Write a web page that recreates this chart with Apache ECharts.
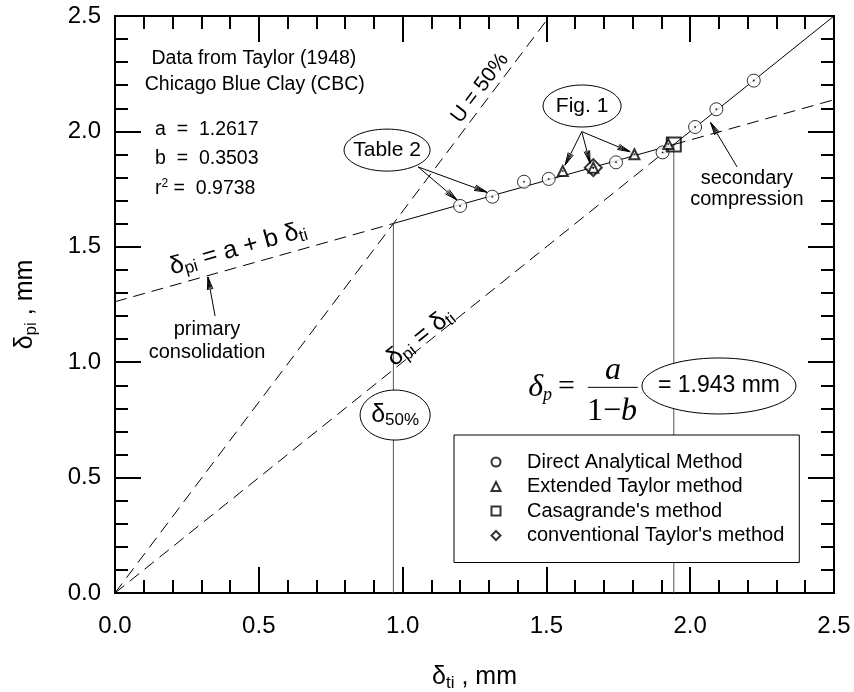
<!DOCTYPE html>
<html>
<head>
<meta charset="utf-8">
<script src="https://cdn.jsdelivr.net/npm/echarts@6/dist/echarts.min.js"></script>
<style>
  html, body { margin: 0; padding: 0; background: #fff; }
  #chart { width: 854px; height: 692px; }
</style>
</head>
<body>
<div id="chart"></div>
<script>
// axis ticks
const tickValues = [0.0, 0.5, 1.0, 1.5, 2.0, 2.5];

// measured points (delta_ti, delta_pi), mm
const directX = [1.200, 1.312, 1.422, 1.508, 1.742, 1.904, 2.017, 2.091, 2.221];
const directY = [1.677, 1.717, 1.782, 1.794, 1.866, 1.909, 2.019, 2.096, 2.220];
const extTaylorX = [1.557, 1.663, 1.806, 1.924];
const extTaylorY = [1.828, 1.843, 1.901, 1.945];
const casaX = [1.943];
const casaY = [1.943];
const convTaylorX = [1.663];
const convTaylorY = [1.843];

// fitted line delta_pi = a + b delta_ti (a = 1.2617, b = 0.3503)
const fitDashLeftX = [0, 0.968];
const fitDashLeftY = [1.262, 1.601];
const fitSolidX = [0.968, 1.943];
const fitSolidY = [1.601, 1.943];
const fitDashRightX = [1.943, 2.5];
const fitDashRightY = [1.943, 2.137];

// delta_pi = delta_ti line
const equalDashX = [0, 1.943];
const equalDashY = [0, 1.943];
const equalSolidX = [1.943, 2.5];
const equalSolidY = [1.943, 2.5];

// U = 50% line
const u50X = [0, 1.512];
const u50Y = [0, 2.5];

// verticals at delta_50 and delta_p
const v50X = [0.968, 0.968];
const v50Y = [0, 1.601];
const vpX = [1.943, 1.943];
const vpY = [0, 1.943];

const FONT = 'Liberation Sans, Arial, sans-serif';
const SERIF = 'Liberation Serif, Times New Roman, serif';

const zip = (xs, ys) => xs.map((x, i) => [x, ys[i]]);

const chart = echarts.init(document.getElementById('chart'));

function lineSeries(xs, ys, dashed, color) {
  return {
    type: 'line', data: zip(xs, ys), symbol: 'none', silent: true, z: 1,
    lineStyle: { color: color || '#000', width: 1, type: dashed ? [12, 7] : 'solid' }
  };
}

// interval 0.5 axis: minor ticks every 0.1 (short)
function axisBase(extra) {
  return Object.assign({
    type: 'value', min: 0, max: 2.5, interval: 0.5,
    axisLine: { show: true, onZero: false, lineStyle: { color: '#000', width: 2 } },
    axisTick: { show: true, inside: true, length: 26, lineStyle: { color: '#000', width: 2 } },
    minorTick: { show: true, splitNumber: 5, length: 13, lineStyle: { color: '#000', width: 2 } },
    splitLine: { show: false },
    minorSplitLine: { show: false }
  }, extra);
}
// interval 2.5 axis: its minor ticks fall on 0.5, 1.0, 1.5, 2.0 (long)
function majorAxis(position) {
  return {
    type: 'value', min: 0, max: 2.5, interval: 2.5, position: position,
    axisLine: { show: true, onZero: false, lineStyle: { color: '#000', width: 2 } },
    axisTick: { show: false, inside: true },
    minorTick: { show: true, splitNumber: 5, length: 26, lineStyle: { color: '#000', width: 2 } },
    axisLabel: { show: false },
    splitLine: { show: false },
    minorSplitLine: { show: false }
  };
}

const axisLabel = (margin) => ({
  show: true, margin: margin, color: '#000', fontSize: 24, fontFamily: FONT,
  showMinLabel: true, showMaxLabel: true,
  formatter: (v) => v.toFixed(1)
});

const nameRich = {
  d: { fontSize: 25, fontFamily: FONT, color: '#000' },
  s: { fontSize: 17, fontFamily: FONT, color: '#000', padding: [12, 0, 0, 0] }
};

const option = {
  animation: false,
  backgroundColor: '#fff',
  grid: { left: 115, right: 20, top: 16, bottom: 99, outerBoundsMode: 'none', containLabel: false },
  xAxis: [
    axisBase({
      position: 'bottom', axisLabel: axisLabel(21),
      name: '{d|δ}{s|ti}{d| , mm}', nameLocation: 'middle', nameGap: 70,
      nameTextStyle: { rich: nameRich }
    }),
    axisBase({ position: 'top', axisLabel: { show: false } }),
    majorAxis('bottom'),
    majorAxis('top')
  ],
  yAxis: [
    axisBase({
      position: 'left', axisLabel: axisLabel(14),
      name: '{d|δ}{s|pi}{d| , mm}', nameLocation: 'middle', nameGap: 75, nameRotate: 90,
      nameTextStyle: { rich: nameRich }
    }),
    axisBase({ position: 'right', axisLabel: { show: false } }),
    majorAxis('left'),
    majorAxis('right')
  ],
  legend: {
    orient: 'vertical', left: 454, top: 435,
    padding: [17, 15, 17, 36.5], itemGap: 4.5, itemWidth: 9, itemHeight: 9,
    backgroundColor: '#fff', borderColor: '#000', borderWidth: 1, z: 20,
    formatter: (name) => '{t|' + name + '}',
    textStyle: { fontSize: 20, fontFamily: FONT, color: '#000', lineHeight: 20,
      rich: { t: { fontSize: 20, fontFamily: FONT, color: '#000', padding: [0, 0, 0, 21.5] } } },
    data: ['Direct Analytical Method', 'Extended Taylor method', "Casagrande's method", "conventional Taylor's method"]
  },
  series: [
    lineSeries(fitDashLeftX, fitDashLeftY, true),
    lineSeries(fitSolidX, fitSolidY, false),
    lineSeries(fitDashRightX, fitDashRightY, true),
    lineSeries(equalDashX, equalDashY, true),
    lineSeries(equalSolidX, equalSolidY, false),
    lineSeries(u50X, u50Y, true),
    lineSeries(v50X, v50Y, false, '#555'),
    lineSeries(vpX, vpY, false, '#555'),
    {
      name: 'Direct Analytical Method', type: 'scatter', data: zip(directX, directY),
      symbol: 'circle', symbolSize: 13, z: 3,
      itemStyle: { color: '#fff', borderColor: '#000', borderWidth: 1 }
    },
    {
      name: "conventional Taylor's method", type: 'scatter', data: zip(convTaylorX, convTaylorY),
      symbol: 'diamond', symbolSize: [17, 17], z: 3,
      itemStyle: { color: '#fff', borderColor: '#000', borderWidth: 2 }
    },
    {
      name: 'Extended Taylor method', type: 'scatter', data: zip(extTaylorX, extTaylorY),
      symbol: 'triangle', symbolSize: 10, z: 4,
      itemStyle: { color: '#fff', borderColor: '#000', borderWidth: 2 }
    },
    {
      name: "Casagrande's method", type: 'scatter', data: zip(casaX, casaY),
      symbol: 'rect', symbolSize: 14, z: 3,
      itemStyle: { color: 'rgba(255,255,255,0)', borderColor: '#000', borderWidth: 2 }
    },
    {
      // centre dots of all markers
      name: 'dots', type: 'scatter', silent: true, z: 5,
      data: zip(directX, directY).concat(zip(extTaylorX, extTaylorY), zip(convTaylorX, convTaylorY), zip(casaX, casaY)),
      symbol: 'circle', symbolSize: 2, itemStyle: { color: '#000' }
    }
  ]
};

chart.setOption(option);

// ---- annotations, placed in data coordinates ----
const P = (x, y) => chart.convertToPixel({ gridIndex: 0 }, [x, y]);
const angleOf = (xs, ys) => {
  const a = P(xs[0], ys[0]), b = P(xs[xs.length - 1], ys[ys.length - 1]);
  return Math.atan2(a[1] - b[1], b[0] - a[0]);
};

const g = [];
function text(x, y, str, size, opts) {
  const p = P(x, y);
  g.push({
    type: 'text', x: p[0], y: p[1], rotation: (opts && opts.rotation) || 0, z: 30,
    style: Object.assign({
      text: str, fontSize: size, fontFamily: FONT, fill: '#000',
      align: 'center', verticalAlign: 'middle'
    }, (opts && opts.style) || {})
  });
}
function ellipse(x, y, rx, ry) {
  const p = P(x, y);
  g.push({ type: 'ellipse', z: 25, shape: { cx: p[0], cy: p[1], rx: rx, ry: ry },
    style: { fill: '#fff', stroke: '#000', lineWidth: 1 } });
}
function arrow(fx, fy, tx, ty) {
  const a = P(fx, fy), b = P(tx, ty);
  const ang = Math.atan2(b[1] - a[1], b[0] - a[0]);
  const L = 13, w = 0.22;
  g.push({ type: 'line', z: 24, shape: { x1: a[0], y1: a[1], x2: b[0], y2: b[1] },
    style: { stroke: '#000', lineWidth: 1 } });
  [w, w * 0.5].forEach((ww) => {
    g.push({ type: 'polyline', z: 24,
      shape: { points: [
        [b[0] - L * Math.cos(ang - ww), b[1] - L * Math.sin(ang - ww)],
        [b[0], b[1]],
        [b[0] - L * Math.cos(ang + ww), b[1] - L * Math.sin(ang + ww)]
      ] },
      style: { stroke: '#000', fill: null, lineWidth: 1 } });
  });
}

const subRich = (big, small) => ({
  d: { fontSize: big, fontFamily: FONT, fill: '#000' },
  s: { fontSize: small, fontFamily: FONT, fill: '#000', padding: [Math.round(big * 0.45), 0, 0, 0] }
});

// header text
text(0.483, 2.314, 'Data from Taylor (1948)', 19.5);
text(0.486, 2.201, 'Chicago Blue Clay (CBC)', 19.5);
text(0.139, 2.006, 'a  =  1.2617', 19.5, { style: { align: 'left' } });
text(0.139, 1.880, 'b  =  0.3503', 19.5, { style: { align: 'left' } });
text(0.139, 1.750, '{d|r}{sup|2}{d| =  0.9738}', 19.5, { style: { align: 'left', rich: {
  d: { fontSize: 19.5, fontFamily: FONT, fill: '#000' },
  sup: { fontSize: 12, fontFamily: FONT, fill: '#000', padding: [0, 0, 10, 0] }
} } });

// rotated line labels
text(0.428, 1.492, '{d|δ}{s|pi}{d| = a + b }{d|δ}{s|ti}', 25,
  { rotation: angleOf(fitDashLeftX, fitDashLeftY), style: { rich: subRich(25, 17) } });
text(1.269, 2.188, 'U = 50%', 21, { rotation: angleOf(u50X, u50Y) });
text(1.062, 1.108, '{d|δ}{s|pi}{d| = }{d|δ}{s|ti}', 25,
  { rotation: angleOf(equalDashX, equalDashY), style: { rich: subRich(25, 17) } });

// callouts
arrow(1.054, 1.846, 1.189, 1.703);
arrow(1.054, 1.846, 1.293, 1.737);
ellipse(0.946, 1.919, 43, 21);
text(0.946, 1.919, 'Table 2', 21);

arrow(1.623, 1.999, 1.565, 1.854);
arrow(1.623, 1.999, 1.652, 1.862);
arrow(1.623, 1.999, 1.791, 1.912);
ellipse(1.624, 2.110, 39, 21);
text(1.624, 2.110, 'Fig. 1', 21);

arrow(2.163, 1.846, 2.071, 2.038);
text(2.197, 1.794, 'secondary', 20);
text(2.197, 1.703, 'compression', 20);

arrow(0.348, 1.200, 0.323, 1.369);
text(0.320, 1.140, 'primary', 20);
text(0.320, 1.044, 'consolidation', 20);

ellipse(0.974, 0.771, 35, 25);
text(0.974, 0.771, '{d|δ}{s|50%}', 25, { style: { rich: subRich(25, 17) } });

// delta_p formula
text(1.478, 0.888, '{d|δ}{s|p}', 32, { style: { rich: {
  d: { fontSize: 32, fontFamily: SERIF, fontStyle: 'italic', fill: '#000' },
  s: { fontSize: 18, fontFamily: SERIF, fontStyle: 'italic', fill: '#000', padding: [15, 0, 0, 0] }
} } });
text(1.570, 0.893, '=', 30, { style: { fontFamily: SERIF } });
text(1.732, 0.965, 'a', 32, { style: { fontFamily: SERIF, fontStyle: 'italic' } });
(function () {
  const a = P(1.644, 0.891), b = P(1.818, 0.891);
  g.push({ type: 'line', z: 30, shape: { x1: a[0], y1: a[1], x2: b[0], y2: b[1] },
    style: { stroke: '#000', lineWidth: 1 } });
})();
text(1.728, 0.785, '{n|1}{m|−}{b|b}', 32, { style: { rich: {
  n: { fontSize: 32, fontFamily: SERIF, fill: '#000' },
  m: { fontSize: 32, fontFamily: SERIF, fill: '#000' },
  b: { fontSize: 32, fontFamily: SERIF, fontStyle: 'italic', fill: '#000' }
} } });

ellipse(2.100, 0.897, 77, 28);
text(2.100, 0.897, '= 1.943 mm', 23);

chart.setOption({ graphic: { elements: g } });
</script>
</body>
</html>
